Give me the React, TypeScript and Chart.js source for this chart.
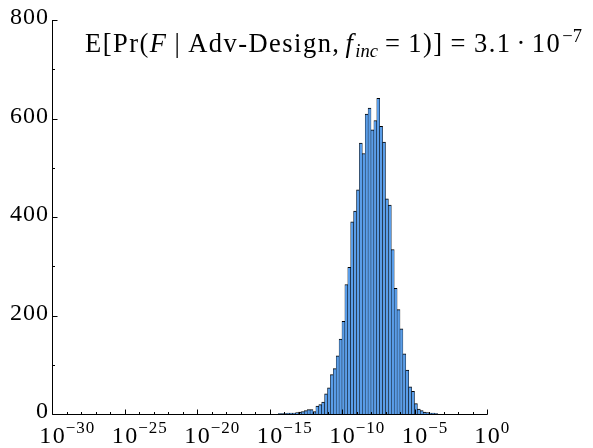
import React, { useEffect, useRef } from "react";
import { Chart, registerables } from "chart.js";

Chart.register(...registerables);

// Histogram bin centres, in log10 units (bins 0.2 decades wide)
const binCenters = [
  -14.3, -14.1, -13.9, -13.7, -13.5, -13.3, -13.1, -12.9, -12.7, -12.5,
  -12.3, -12.1, -11.9, -11.7, -11.5, -11.3, -11.1, -10.9, -10.7, -10.5,
  -10.3, -10.1, -9.9, -9.7, -9.5, -9.3, -9.1, -8.9, -8.7, -8.5,
  -8.3, -8.1, -7.9, -7.7, -7.5, -7.3, -7.1, -6.9, -6.7, -6.5,
  -6.3, -6.1, -5.9, -5.7, -5.5, -5.3, -5.1, -4.9, -4.7, -4.5,
  -4.3, -4.1, -3.9, -3.7, -3.5,
];
const counts = [
  1, 1, 1, 2, 2, 2, 3, 4, 5, 7,
  9, 9, 5, 16, 19, 24, 41, 53, 80, 92,
  118, 152, 188, 263, 298, 390, 412, 455, 550, 529,
  609, 621, 577, 596, 641, 584, 552, 437, 424, 334,
  255, 212, 173, 122, 89, 55, 46, 21, 10, 7,
  4, 3, 2, 2, 1,
];

const xMajorExponents = [-30, -25, -20, -15, -10, -5, 0];
const xMajorLabels = ["−30", "−25", "−20", "−15", "−10", "−5", "0"];
const xMinorExponents = [
  -29, -28, -27, -26, -24, -23, -22, -21, -19, -18, -17, -16,
  -14, -13, -12, -11, -9, -8, -7, -6, -4, -3, -2, -1,
];
const yMajorTicks = [0, 200, 400, 600, 800];
const yMinorTicks = [100, 300, 500, 700];

const titleMean = "3.1";
const titleMeanExponent = "−7";

const SERIF = '"Liberation Serif", "DejaVu Serif", serif';

const axesPlugin = {
  id: "latexAxes",
  afterDraw(chart: any) {
    const ctx = chart.ctx as any;
    const xs = chart.scales.x;
    const ys = chart.scales.y;
    const area = chart.chartArea;
    const left = Math.round(area.left) + 0.5;
    const bottom = Math.round(area.bottom) + 0.5;
    ctx.save();
    ctx.strokeStyle = "#000";
    ctx.lineWidth = 1;
    ctx.beginPath();
    ctx.moveTo(left, Math.round(area.top));
    ctx.lineTo(left, bottom);
    ctx.lineTo(Math.round(area.right) + 0.5, bottom);
    ctx.stroke();

    // x ticks (inward)
    ctx.beginPath();
    xMajorExponents.forEach((e) => {
      const px = Math.round(xs.getPixelForValue(e)) + 0.5;
      ctx.moveTo(px, bottom);
      ctx.lineTo(px, bottom - 5);
    });
    xMinorExponents.forEach((e) => {
      const px = Math.round(xs.getPixelForValue(e)) + 0.5;
      ctx.moveTo(px, bottom);
      ctx.lineTo(px, bottom - 2.5);
    });
    // y ticks (inward)
    yMajorTicks.forEach((v) => {
      const py = Math.round(ys.getPixelForValue(v)) + 0.5;
      ctx.moveTo(left, py);
      ctx.lineTo(left + 5, py);
    });
    yMinorTicks.forEach((v) => {
      const py = Math.round(ys.getPixelForValue(v)) + 0.5;
      ctx.moveTo(left, py);
      ctx.lineTo(left + 2.5, py);
    });
    ctx.stroke();

    ctx.fillStyle = "#000";
    // y labels
    ctx.font = `24px ${SERIF}`;
    ctx.letterSpacing = "1px";
    ctx.textAlign = "right";
    ctx.textBaseline = "middle";
    yMajorTicks.forEach((v) => {
      const py = ys.getPixelForValue(v);
      ctx.fillText(String(v), area.left - 3, py - 2);
    });

    // x labels 10^e
    ctx.textAlign = "left";
    ctx.textBaseline = "alphabetic";
    xMajorExponents.forEach((e, i) => {
      const px = xs.getPixelForValue(e);
      ctx.font = `24px ${SERIF}`;
      ctx.letterSpacing = "1.5px";
      const w = ctx.measureText("10").width - 1.5;
      ctx.fillText("10", px - w / 2, area.bottom + 29);
      ctx.font = `17px ${SERIF}`;
      ctx.letterSpacing = "1px";
      ctx.fillText(xMajorLabels[i], px + w / 2 + 1, area.bottom + 19);
    });

    // title
    type Seg = { t: string; f: string; s: number; dy: number; gap?: number };
    const R = SERIF;
    const segs: Seg[] = [
      { t: "E[Pr(", f: "", s: 1, dy: 0 },
      { t: "F", f: "italic ", s: 1, dy: 0, gap: 7 },
      { t: "|", f: "", s: 1, dy: 0, gap: 7 },
      { t: "Adv-Design,", f: "", s: 1, dy: 0, gap: 5 },
      { t: "f", f: "italic ", s: 1, dy: 0, gap: 1 },
      { t: "inc", f: "italic ", s: 0.7, dy: 5, gap: 7 },
      { t: "=", f: "", s: 1, dy: 0, gap: 7 },
      { t: "1)]", f: "", s: 1, dy: 0, gap: 7 },
      { t: "=", f: "", s: 1, dy: 0, gap: 7 },
      { t: titleMean, f: "", s: 1, dy: 0, gap: 5 },
      { t: "·", f: "", s: 1, dy: 0, gap: 5 },
      { t: "10", f: "", s: 1, dy: 0, gap: 1 },
      { t: titleMeanExponent, f: "", s: 0.7, dy: -10 },
    ];
    const size = 26.5;
    const measure = (ls: number) => {
      let w = 0;
      segs.forEach((sg) => {
        ctx.font = `${sg.f}${(size * sg.s).toFixed(2)}px ${R}`;
        ctx.letterSpacing = `${sg.s < 1 ? 0 : ls}px`;
        w += ctx.measureText(sg.t).width + (sg.gap || 0);
      });
      return w;
    };
    const targetW = 497;
    let nChars = 0;
    segs.forEach((sg) => (nChars += sg.s < 1 ? 0 : sg.t.length));
    const w0 = measure(0);
    const ls = Math.max(0, Math.min(1.5, (targetW - w0) / nChars));
    let x = 85;
    const baseY = 52;
    segs.forEach((sg) => {
      ctx.font = `${sg.f}${(size * sg.s).toFixed(2)}px ${R}`;
      ctx.letterSpacing = `${sg.s < 1 ? 0 : ls}px`;
      ctx.fillText(sg.t, x, baseY + sg.dy);
      x += ctx.measureText(sg.t).width + (sg.gap || 0);
    });
    ctx.restore();
  },
};

export default function App() {
  const canvasRef = useRef<HTMLCanvasElement | null>(null);

  useEffect(() => {
    if (!canvasRef.current) return;
    const chart = new Chart(canvasRef.current, {
      type: "bar",
      data: {
        datasets: [
          {
            data: binCenters.map((c, i) => ({ x: c, y: counts[i] })),
            backgroundColor: "#5a9de8",
            borderColor: "#000",
            borderWidth: { top: 1, left: 0.5, right: 0.5, bottom: 0 } as any,
            borderSkipped: false,
            barPercentage: 1,
            categoryPercentage: 1,
          },
        ],
      },
      options: {
        responsive: false,
        devicePixelRatio: 1,
        animation: false,
        layout: { padding: { left: 52, right: 106, top: 20, bottom: 34 } },
        plugins: { legend: { display: false }, tooltip: { enabled: false } },
        scales: {
          x: { type: "linear", min: -30, max: 0, offset: false, display: false },
          y: { type: "linear", min: 0, max: 800, display: false },
        },
      },
      plugins: [axesPlugin],
    });
    return () => chart.destroy();
  }, []);

  return (
    <div style={{ position: "absolute", left: 0, top: 0, width: 593, height: 448, background: "#fff" }}>
      <canvas ref={canvasRef} width={593} height={448} style={{ width: 593, height: 448 }} />
    </div>
  );
}
